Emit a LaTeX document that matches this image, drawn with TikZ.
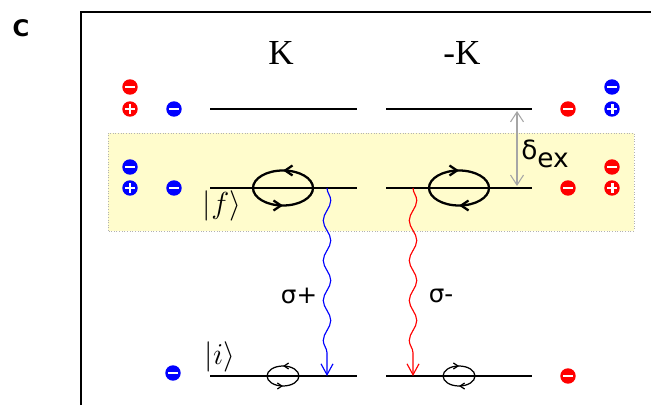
\documentclass[tikz,border=0pt]{standalone}
\usepackage{fontspec}
\setmainfont{Liberation Serif}
\newfontfamily\labelfont{DejaVu Sans}
\usetikzlibrary{arrows.meta, decorations.pathmorphing, decorations.markings}
\tikzset{
    level/.style={line width=0.7pt},
    band/.style={fill=yellow!20, draw=gray!60, densely dotted, line width=0.5pt},
    chg/.style={circle, fill=#1, inner sep=0pt, minimum size=8.8pt},
    minus/.style={chg=#1, path picture={\draw[white, line width=1.7pt] ([xshift=-2.8pt]path picture bounding box.center) -- ([xshift=2.8pt]path picture bounding box.center);}},
    plus/.style={chg=#1, path picture={\draw[white, line width=1.7pt] ([xshift=-2.8pt]path picture bounding box.center) -- ([xshift=2.8pt]path picture bounding box.center) ([yshift=-2.8pt]path picture bounding box.center) -- ([yshift=2.8pt]path picture bounding box.center);}},
    photon/.style={draw=#1, line width=0.65pt, decorate, decoration={snake, amplitude=0.075cm, segment length=0.8cm, post length=0.24cm}, -{Straight Barb[length=0.22cm, width=0.24cm]}},
    loopccw/.style 2 args={line width=#1, postaction={decorate}, decoration={markings,
        mark=at position 0.25 with {\arrow{Straight Barb[length=0.15cm, width=0.2cm, scale=#2]}},
        mark=at position 0.75 with {\arrow{Straight Barb[length=0.15cm, width=0.2cm, scale=#2]}}}},
    loopcw/.style 2 args={line width=#1, postaction={decorate}, decoration={markings,
        mark=at position 0.25 with {\arrowreversed{Straight Barb[length=0.15cm, width=0.2cm, scale=#2]}},
        mark=at position 0.75 with {\arrowreversed{Straight Barb[length=0.15cm, width=0.2cm, scale=#2]}}}},
    sig/.style={font=\labelfont\fontsize{14}{14}\selectfont, inner sep=0pt},
    ket/.style={font=\fontsize{16}{18}\selectfont, inner sep=0pt},
    gap/.style={draw=gray!70, line width=0.6pt, {Straight Barb[length=0.2cm, width=0.26cm]}-{Straight Barb[length=0.2cm, width=0.26cm]}}
}

\begin{document}
\begin{tikzpicture}[x=0.02cm, y=0.02cm]
\useasboundingbox (0,0) rectangle (651,405);
\draw[line width=1.1pt] (81,0) -- (81,393) -- (651,393);
\node[font=\labelfont\bfseries\fontsize{13}{13}\selectfont] (panel) at (21,377) {C};

\draw[band] (108,174) rectangle (634,272);

\node[font=\fontsize{20}{20}\selectfont] (valK) at (281,352) {K};
\node[font=\fontsize{20}{20}\selectfont] (valmK) at (462,352) {-K};

\coordinate (uKa) at (210,296); \coordinate (uKb) at (357,296);
\coordinate (uMa) at (386,296); \coordinate (uMb) at (532,296);
\coordinate (fKa) at (210,217); \coordinate (fKb) at (357,217);
\coordinate (fMa) at (386,217); \coordinate (fMb) at (532,217);
\coordinate (iKa) at (210,29);  \coordinate (iKb) at (357,29);
\coordinate (iMa) at (386,29);  \coordinate (iMb) at (532,29);
\draw[level] (uKa) -- (uKb);
\draw[level] (uMa) -- (uMb);
\draw[level] (fKa) -- (fKb);
\draw[level] (fMa) -- (fMb);
\draw[level] (iKa) -- (iKb);
\draw[level] (iMa) -- (iMb);

\draw[loopccw={1.3pt}{1}] (283,217) ellipse (30 and 17.5);
\draw[loopcw={1.3pt}{1}] (459,217) ellipse (30 and 17.5);
\draw[loopccw={0.7pt}{0.6}] (283,29) ellipse (16 and 10);
\draw[loopcw={0.7pt}{0.6}] (459,29) ellipse (16 and 10);

\node[ket] (fket) at (222,199) {$|f\rangle$};
\node[ket] (iket) at (220,48) {$|i\rangle$};

\coordinate (wKf) at (327,217); \coordinate (wKi) at (327,29);
\coordinate (wMf) at (413,217); \coordinate (wMi) at (413,29);
\draw[photon=blue] (wKf) -- (wKi);
\draw[photon=red] (wMf) -- (wMi);
\node[sig] (sigp) at (299,109) {σ+};
\node[sig] (sigm) at (441,109) {σ-};

\coordinate (dtop) at (517,294); \coordinate (dbot) at (517,219);
\draw[gap] (dtop) -- (dbot);
\node[font=\labelfont\fontsize{15}{15}\selectfont, inner sep=0pt] (dex) at (545,251) {δ\raisebox{-0.28em}{ex}};

\node[minus=red] (qa) at (130,318) {};
\node[plus=red] (qb) at (130,296) {};
\node[minus=blue] (qc) at (174,296) {};
\node[minus=blue] (qd) at (130,238) {};
\node[plus=blue] (qe) at (130,217) {};
\node[minus=blue] (qf) at (174,217) {};
\node[minus=blue] (qg) at (173,32) {};
\node[minus=blue] (qh) at (612,318) {};
\node[plus=blue] (qi) at (612,296) {};
\node[minus=red] (qj) at (568,296) {};
\node[minus=red] (qk) at (612,238) {};
\node[plus=red] (ql) at (612,217) {};
\node[minus=red] (qm) at (568,217) {};
\node[minus=red] (qn) at (568,29) {};
\end{tikzpicture}
\end{document}
